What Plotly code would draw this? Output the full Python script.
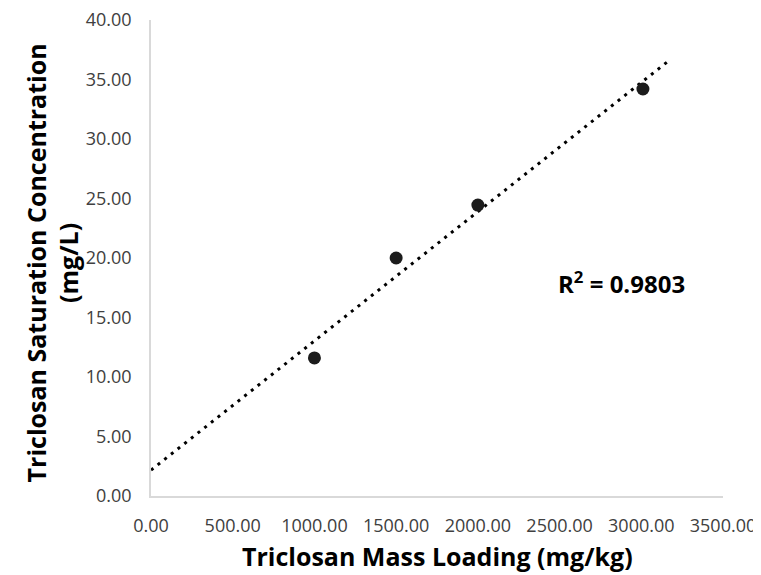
import numpy as np
import plotly.graph_objects as go

# Data
mass_loading = [1000, 1500, 2000, 3010]          # mg/kg
sat_conc = [11.6, 20.0, 24.45, 34.2]             # mg/L
r2_label = "<b>R<sup>2</sup> = 0.9803</b>"
trend_x_range = [0, 3175]

x_ticks = [0, 500, 1000, 1500, 2000, 2500, 3000, 3500]
y_ticks = [0, 5, 10, 15, 20, 25, 30, 35, 40]

x_title = "<b>Triclosan Mass Loading (mg/kg)</b>"
y_title = "<b>Triclosan Saturation Concentration<br>(mg/L)</b>"

# Linear least-squares trendline (as Excel's linear trendline)
slope, intercept = np.polyfit(mass_loading, sat_conc, 1)
trend_x = np.array(trend_x_range, dtype=float)
trend_y = slope * trend_x + intercept

FONT = "Open Sans"
fig = go.Figure()
fig.add_trace(go.Scatter(
    x=trend_x, y=trend_y, mode="lines",
    line=dict(color="#000000", width=3, dash="3px,5.5px"),
    hoverinfo="skip", showlegend=False,
))
fig.add_trace(go.Scatter(
    x=mass_loading, y=sat_conc, mode="markers",
    marker=dict(color="#1c1c1c", size=13),
    showlegend=False,
))

fig.add_annotation(
    x=2876, y=17.9, xref="x", yref="y", text=r2_label, showarrow=False,
    xanchor="center", yanchor="middle",
    font=dict(family=FONT, size=24, color="#000000"),
)
fig.add_annotation(
    x=0.5, y=-0.126, xref="paper", yref="paper", text=x_title, showarrow=False,
    xanchor="center", yanchor="middle",
    font=dict(family=FONT, size=25, color="#000000"),
)
fig.add_annotation(
    x=-0.172, y=0.49, xref="paper", yref="paper", text=y_title, showarrow=False,
    xanchor="center", yanchor="middle", textangle=-90,
    font=dict(family=FONT, size=25, color="#000000"),
)

# page body has an 8px margin, so the figure is sized/offset to compensate
fig.update_layout(
    width=753, height=567,
    margin=dict(l=143, r=38, t=12, b=79),
    plot_bgcolor="white", paper_bgcolor="white",
    font=dict(family=FONT, color="#404040"),
)
fig.update_xaxes(
    range=[0, 3500], tickvals=x_ticks, tickformat=".2f", automargin=False,
    showgrid=False, zeroline=False, showline=True, linecolor="#d9d9d9", linewidth=1.5,
    ticks="", ticklabelstandoff=13, ticklabeloverflow="allow",
    tickfont=dict(size=18, color="#404040", family=FONT),
)
fig.update_yaxes(
    range=[0, 40], tickvals=y_ticks, tickformat=".2f", automargin=False,
    showgrid=False, zeroline=False, showline=True, linecolor="#d9d9d9", linewidth=1.5,
    ticks="", ticklabelstandoff=14, ticklabeloverflow="allow",
    tickfont=dict(size=18, color="#404040", family=FONT),
)

fig.write_html("out.html")
